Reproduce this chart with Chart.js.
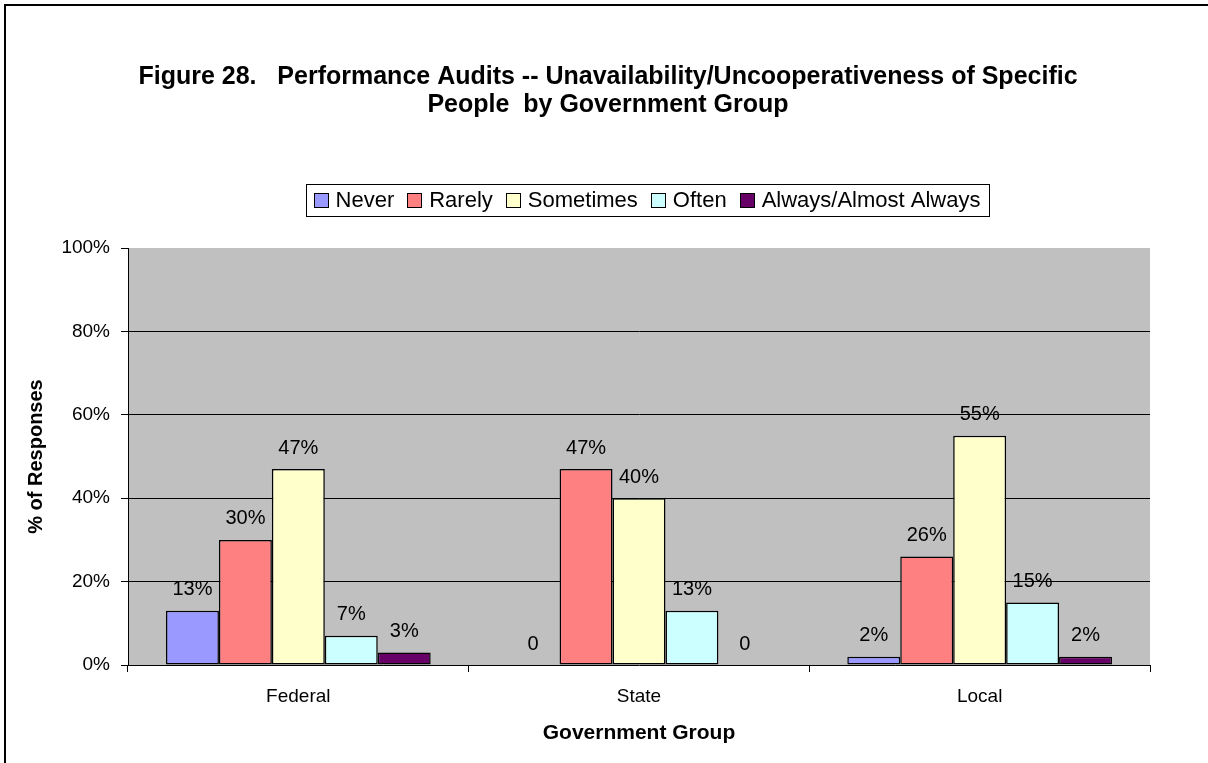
<!DOCTYPE html>
<html>
<head>
<meta charset="utf-8">
<script src="https://cdn.jsdelivr.net/npm/chart.js@4/dist/chart.umd.min.js"></script>
<style>
  html, body { margin: 0; padding: 0; background: #fff; }
  #wrap { width: 1208px; height: 763px; }
</style>
</head>
<body>
<div id="wrap"><canvas id="chart" width="1208" height="763"></canvas></div>
<script>
// data
const groups = ['Federal', 'State', 'Local'];
const seriesNames = ['Never', 'Rarely', 'Sometimes', 'Often', 'Always/Almost Always'];
const never = [13, 0, 2];
const rarely = [30, 47, 26];
const sometimes = [47, 40, 55];
const often = [7, 13, 15];
const always = [3, 0, 2];
const yTicks = [0, 20, 40, 60, 80, 100];

const colors = ['#9999FF', '#FF8080', '#FFFFCC', '#CCFFFF', '#660066'];
const FONT = "'Liberation Sans', Arial, sans-serif";

const titleLines = [
    'Figure 28.   Performance Audits -- Unavailability/Uncooperativeness of Specific',
    'People  by Government Group'
];

// plot background, outer frame, title, legend and value labels
const decor = {
    id: 'decor',
    beforeDraw(chart) {
        const { ctx, chartArea: a } = chart;
        ctx.save();
        ctx.fillStyle = '#fff';
        ctx.fillRect(0, 0, chart.width, chart.height);
        ctx.fillStyle = '#C0C0C0';
        ctx.fillRect(a.left, a.top, a.right - a.left, a.bottom - a.top);
        // outer frame (only top/left inside the picture)
        ctx.strokeStyle = '#000';
        ctx.lineWidth = 2;
        ctx.strokeRect(5, 5, chart.width + 20, chart.height + 20);
        ctx.restore();
    },
    afterDraw(chart) {
        const { ctx } = chart;
        ctx.save();
        // title
        ctx.fillStyle = '#000';
        ctx.font = 'bold 25px ' + FONT;
        ctx.textAlign = 'center';
        ctx.textBaseline = 'middle';
        ctx.fillText(titleLines[0], 608, 77);
        ctx.fillText(titleLines[1], 608, 105);

        // legend
        ctx.font = '22px ' + FONT;
        ctx.textAlign = 'left';
        const box = 14, gapText = 8, gapItem = 13, pad = 8;
        const widths = seriesNames.map(n => ctx.measureText(n).width);
        let total = 0;
        widths.forEach((w, i) => { total += box + gapText + w + (i < widths.length - 1 ? gapItem : 0); });
        const cx = 647, cy = 200;
        let x = cx - total / 2;
        ctx.strokeStyle = '#000';
        ctx.lineWidth = 1;
        ctx.strokeRect(Math.round(x - pad) + 0.5, 184.5, Math.round(total + 2 * pad), 32);
        seriesNames.forEach((n, i) => {
            const bx = Math.round(x), by = Math.round(cy - box / 2);
            ctx.fillStyle = colors[i];
            ctx.fillRect(bx, by, box, box);
            ctx.strokeStyle = '#000';
            ctx.strokeRect(bx + 0.5, by + 0.5, box, box);
            ctx.fillStyle = '#000';
            ctx.fillText(n, x + box + gapText, cy + 1);
            x += box + gapText + widths[i] + gapItem;
        });
        ctx.restore();
    },
    afterDatasetsDraw(chart) {
        const { ctx } = chart;
        ctx.save();
        ctx.font = '20px ' + FONT;
        ctx.fillStyle = '#000';
        ctx.textAlign = 'center';
        ctx.textBaseline = 'middle';
        chart.data.datasets.forEach((ds, i) => {
            chart.getDatasetMeta(i).data.forEach((bar, j) => {
                const v = ds.data[j];
                ctx.fillText(v === 0 ? '0' : v + '%', bar.x, bar.y - 21);
            });
        });
        ctx.restore();
    }
};

const seriesData = [never, rarely, sometimes, often, always];

new Chart(document.getElementById('chart').getContext('2d'), {
    type: 'bar',
    data: {
        labels: groups,
        datasets: seriesNames.map((name, i) => ({
            label: name,
            data: seriesData[i],
            backgroundColor: colors[i],
            borderColor: '#000',
            borderWidth: 1.5,
            borderSkipped: false,
            barPercentage: 1,
            categoryPercentage: 0.777
        }))
    },
    options: {
        responsive: false,
        animation: false,
        layout: { padding: { top: 248, right: 58, left: 0, bottom: 0 } },
        plugins: {
            legend: { display: false },
            tooltip: { enabled: false }
        },
        scales: {
            x: {
                afterFit: s => { s.height = 98; },
                grid: {
                    offset: true,
                    drawOnChartArea: false,
                    color: '#000',
                    tickLength: 7
                },
                border: { color: '#000', width: 1 },
                ticks: { color: '#000', font: { family: FONT, size: 19 }, padding: 13 },
                title: {
                    display: true,
                    text: 'Government Group',
                    color: '#000',
                    font: { family: FONT, size: 21, weight: 'bold' },
                    padding: { top: 0, bottom: 17 }
                }
            },
            y: {
                min: 0,
                max: 100,
                afterFit: s => { s.width = 128; },
                afterBuildTicks: s => { s.ticks = yTicks.map(v => ({ value: v })); },
                grid: {
                    color: ctx => (ctx.tick && ctx.tick.value > 0 && ctx.tick.value < 100) ? '#000' : 'rgba(0,0,0,0)',
                    tickColor: '#000',
                    tickLength: 7
                },
                border: { color: '#000', width: 1 },
                ticks: {
                    color: '#000',
                    font: { family: FONT, size: 19 },
                    padding: 11,
                    callback: v => v + '%'
                },
                title: {
                    display: true,
                    text: '% of Responses',
                    color: '#000',
                    font: { family: FONT, size: 20, weight: 'bold' },
                    padding: { top: 24, bottom: 0 }
                }
            }
        }
    },
    plugins: [decor]
});
</script>
</body>
</html>
